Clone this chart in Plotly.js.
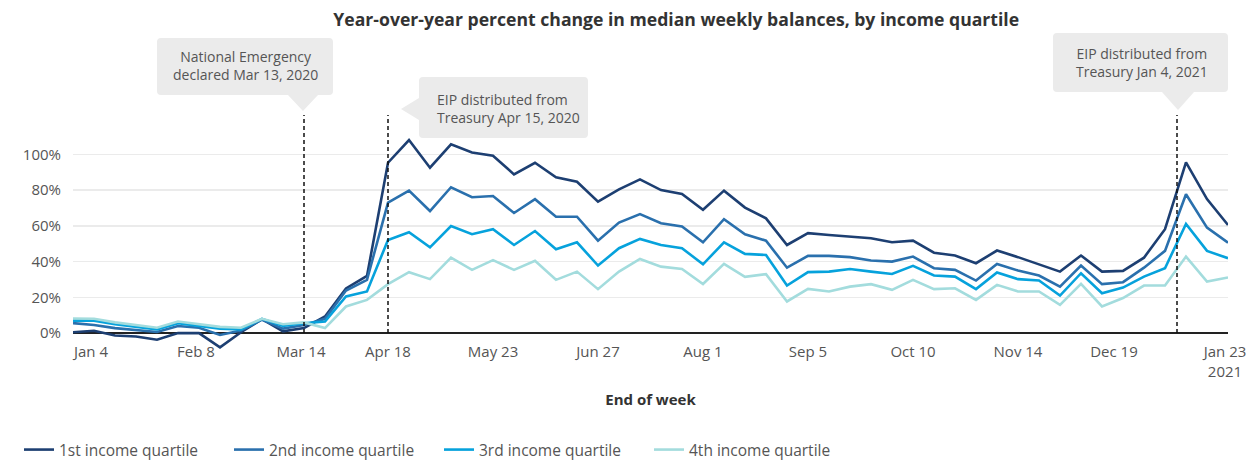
<!DOCTYPE html>
<html>
<head>
<meta charset="utf-8">
<script src="https://cdn.plot.ly/plotly-3.0.1.min.js"></script>
<style>html,body{margin:0;padding:0;background:#fff;}#chart{width:1250px;height:460px;}</style>
</head>
<body>
<div id="chart"></div>
<script>
// Week-ending dates
const weeks = [
  '2020-01-04','2020-01-11','2020-01-18','2020-01-25','2020-02-01','2020-02-08','2020-02-15','2020-02-22',
  '2020-02-29','2020-03-07','2020-03-14','2020-03-21','2020-03-28','2020-04-04','2020-04-11','2020-04-18',
  '2020-04-25','2020-05-02','2020-05-09','2020-05-16','2020-05-23','2020-05-30','2020-06-06','2020-06-13',
  '2020-06-20','2020-06-27','2020-07-04','2020-07-11','2020-07-18','2020-07-25','2020-08-01','2020-08-08',
  '2020-08-15','2020-08-22','2020-08-29','2020-09-05','2020-09-12','2020-09-19','2020-09-26','2020-10-03',
  '2020-10-10','2020-10-17','2020-10-24','2020-10-31','2020-11-07','2020-11-14','2020-11-21','2020-11-28',
  '2020-12-05','2020-12-12','2020-12-19','2020-12-26','2021-01-02','2021-01-09','2021-01-16','2021-01-23'
];

// Year-over-year % change in median weekly balances
const q1 = [0.5,1.3,-1.3,-1.9,-3.7,0,0,-8,0.5,7.8,1,2.8,9.3,25,32,95.3,
  108,92.5,105.6,101,99.2,88.8,95.3,87.2,84.7,73.5,80.4,86,80,77.8,69,79.7,
  70.2,64.2,49.3,55.9,54.9,54,53.1,50.8,51.7,45,43.4,39.1,46.2,42.5,38.5,34.4,
  43.4,34.4,34.8,42.2,58.1,95.5,75,60.5];
const q2 = [5.6,4.5,2.8,1.8,0.6,4,3,-1,1.5,7.5,2.5,4.5,8,23.8,29.8,73,
  79.7,68.3,81.6,76,76.7,67.2,74.9,65.1,65.1,51.7,61.8,66.6,61.5,59.6,50.8,63.7,
  55.3,51.7,36.6,43.2,43.2,42.5,40.6,40,42.8,36.3,35.4,29.4,38.7,35,32.2,26,
  37.8,27.4,28.5,36.6,46,77.7,59,50.6];
const q3 = [7,7,5,3.5,2,5.5,4,2.5,2,8,4,5.5,6.5,20.5,23.3,52.1,
  56.4,48,59.9,55.3,58.1,49.3,57.1,46.9,50.8,37.8,47.5,52.7,49.3,47.5,38.5,50.8,
  44.3,43.7,26.6,34.1,34.4,35.9,34.4,33.1,37.6,32.2,31.6,24.6,33.9,30.2,29.4,21,
  33.5,22.3,25.5,31.6,36.3,61.1,46,41.9];
const q4 = [8.2,8,6,4.5,3,6.5,5,3.5,3,8,5,6,2.8,14.9,18.6,27.4,
  34.1,30.2,42.2,35.4,40.8,35.4,40.4,29.8,34.4,24.6,34.4,41.5,37.2,35.9,27.5,38.7,
  31.5,33,17.7,24.7,23.3,26,27.4,24.2,29.8,24.6,25.1,18.6,27,23.3,23.3,15.8,
  27.5,14.9,19.6,26.6,26.6,42.8,28.8,31.1];

const seriesNames = ['1st income quartile','2nd income quartile','3rd income quartile','4th income quartile'];
const seriesColors = ['#1d3f72','#2a70ad','#06a2dc','#a3dcdd'];

const tickDates = ['2020-01-10','2020-02-14','2020-03-20','2020-04-18','2020-05-23','2020-06-27',
  '2020-08-01','2020-09-05','2020-10-10','2020-11-14','2020-12-16','2021-01-22'];
const tickLabels = ['Jan 4','Feb 8','Mar 14','Apr 18','May 23','Jun 27','Aug 1','Sep 5','Oct 10','Nov 14','Dec 19','Jan 23<br>2021'];
const yTicks = [0,20,40,60,80,100];
const yTickLabels = ['0%','20%','40%','60%','80%','100%'];

const eventDates = ['2020-03-21','2020-04-18','2021-01-06'];
const eventTexts = ['National Emergency<br>declared Mar 13, 2020',
  'EIP distributed from<br>Treasury Apr 15, 2020',
  'EIP distributed from<br>Treasury Jan 4, 2021'];

// plot geometry (px)
const W = 1250, Hh = 460, mL = 73, mR = 22, mT = 115, mB = 109;
const PW = W - mL - mR, PH = Hh - mT - mB, PB = Hh - mB;
function px(X){ return (X - mL) / PW; }
function py(Y){ return (PB - Y) / PH; }
function P(X,Y){ return px(X).toFixed(5) + ',' + py(Y).toFixed(5); }

function calloutDown(x0,y0,x1,y1,tx,ty,hw){
  const r = 4;
  return 'M' + P(x0+r,y0) + ' L' + P(x1-r,y0) + ' Q' + P(x1,y0) + ' ' + P(x1,y0+r) +
    ' L' + P(x1,y1-r) + ' Q' + P(x1,y1) + ' ' + P(x1-r,y1) +
    ' L' + P(tx+hw,y1) + ' L' + P(tx,ty) + ' L' + P(tx-hw,y1) +
    ' L' + P(x0+r,y1) + ' Q' + P(x0,y1) + ' ' + P(x0,y1-r) +
    ' L' + P(x0,y0+r) + ' Q' + P(x0,y0) + ' ' + P(x0+r,y0) + ' Z';
}
function calloutLeft(x0,y0,x1,y1,tx,ty,hh){
  const r = 4;
  return 'M' + P(x0+r,y0) + ' L' + P(x1-r,y0) + ' Q' + P(x1,y0) + ' ' + P(x1,y0+r) +
    ' L' + P(x1,y1-r) + ' Q' + P(x1,y1) + ' ' + P(x1-r,y1) +
    ' L' + P(x0+r,y1) + ' Q' + P(x0,y1) + ' ' + P(x0,y1-r) +
    ' L' + P(x0,ty+hh) + ' L' + P(tx,ty) + ' L' + P(x0,ty-hh) +
    ' L' + P(x0,y0+r) + ' Q' + P(x0,y0) + ' ' + P(x0+r,y0) + ' Z';
}

const series = [q1,q2,q3,q4];
const traces = series.map((s,i) => ({
  type:'scatter', mode:'lines', x: weeks, y: s, name: seriesNames[i],
  line:{color: seriesColors[i], width:2.6}, hoverinfo:'x+y+name'
}));

const shapes = eventDates.map(d => ({
  type:'line', xref:'x', yref:'y', x0:d, x1:d, y0:0, y1:122,
  line:{color:'#111', width:1.5, dash:'4px,3px'}, layer:'above'
}));
const boxFill = '#ebebeb';
shapes.push({type:'path', xref:'paper', yref:'paper', path: calloutDown(157,38,333,95,303,111,15), fillcolor:boxFill, line:{width:0}, layer:'above'});
shapes.push({type:'path', xref:'paper', yref:'paper', path: calloutLeft(419,77,588,138,401,109,11), fillcolor:boxFill, line:{width:0}, layer:'above'});
shapes.push({type:'path', xref:'paper', yref:'paper', path: calloutDown(1053,33,1228,92,1178,110,16), fillcolor:boxFill, line:{width:0}, layer:'above'});

const annFont = {family:'Open Sans, sans-serif', size:14, color:'#555'};
const annotations = [
  {xref:'paper', yref:'paper', x:px(245), y:py(65.5), text:eventTexts[0], showarrow:false, align:'center', xanchor:'center', yanchor:'middle', font:annFont},
  {xref:'paper', yref:'paper', x:px(435), y:py(108.5), text:eventTexts[1], showarrow:false, align:'left', xanchor:'left', yanchor:'middle', font:annFont},
  {xref:'paper', yref:'paper', x:px(1142), y:py(62.5), text:eventTexts[2], showarrow:false, align:'center', xanchor:'center', yanchor:'middle', font:annFont}
];

const layout = {
  width: W, height: Hh,
  margin:{l:mL, r:mR, t:mT, b:mB, pad:0, autoexpand:false},
  paper_bgcolor:'#fff', plot_bgcolor:'#fff',
  font:{family:'Open Sans, sans-serif', color:'#555'},
  title:{text:'Year-over-year percent change in median weekly balances, by income quartile',
    font:{family:'Open Sans, sans-serif', size:17.6, color:'#333', weight:'bold'},
    x:0.541, xref:'container', xanchor:'center', y:1-20/Hh, yref:'container', yanchor:'middle'},
  xaxis:{type:'date', range:[weeks[0], weeks[weeks.length-1]], showgrid:false, zeroline:false, showline:false,
    automargin:false,
    tickmode:'array', tickvals:tickDates, ticktext:tickLabels, ticks:'', ticklabelstandoff:-10,
    tickfont:{size:15, color:'#555'},
    title:{text:'End of week', font:{size:15, color:'#333', weight:'bold'}, standoff:14}},
  yaxis:{range:[-10,122], tickmode:'array', tickvals:yTicks, ticktext:yTickLabels, showgrid:true,
    automargin:false,
    gridcolor:'#ebebeb', gridwidth:1.5, zeroline:true, zerolinecolor:'#222', zerolinewidth:1.5,
    showline:false, ticks:'outside', ticklen:8, tickcolor:'rgba(0,0,0,0)',
    tickfont:{size:15, color:'#555'}},
  showlegend:true,
  legend:{orientation:'h', x:px(19), xanchor:'left', y:py(450), yanchor:'middle',
    font:{size:15.5, color:'#555'}, entrywidth:165, entrywidthmode:'pixels', traceorder:'normal'},
  shapes: shapes,
  annotations: annotations
};

Plotly.newPlot('chart', traces, layout, {displayModeBar:false, staticPlot:true});
</script>
</body>
</html>
